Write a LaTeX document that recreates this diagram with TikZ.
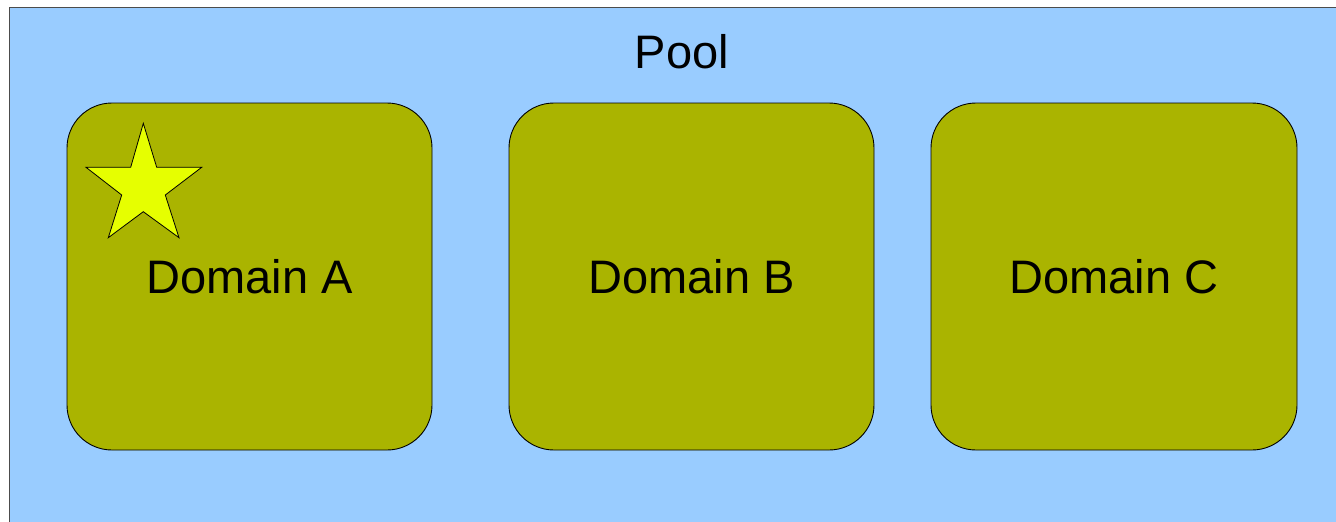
\documentclass[tikz,border=0pt]{standalone}
\usepackage{fontspec}
\setmainfont{Liberation Sans}
\definecolor{poolblue}{HTML}{99CCFF}
\definecolor{domolive}{HTML}{AAB400}
\definecolor{staryellow}{HTML}{E6FF00}
\tikzset{
  domainbox/.style={draw=black, line width=0.9pt, fill=domolive, rounded corners=45pt},
  bigtext/.style={font=\fontsize{47}{51}\selectfont, text=black, inner sep=0pt},
}
\begin{document}
\begin{tikzpicture}[x=1pt,y=-1pt]
\useasboundingbox (0,0) rectangle (1336,522);
\clip (0,0) rectangle (1336,522);
\fill[white] (0,0) rectangle (1336,522);
\draw[fill=poolblue, draw=black!70, line width=1pt] (9.5,7.5) rectangle (1345,535);
\node[bigtext] (pool) at (682,52) {Pool};
\draw[domainbox] (67,103) rectangle (432,450);
\draw[domainbox] (509,103) rectangle (874,450);
\draw[domainbox] (931,103) rectangle (1297,450);
\node[bigtext] (da) at (249.5,277) {Domain A};
\node[bigtext] (db) at (691.5,277) {Domain B};
\node[bigtext] (dc) at (1114,277) {Domain C};
\draw[fill=staryellow, draw=black, line width=0.8pt, line join=miter]
  (143.3,123.3) -- (156.7,167.3) -- (201.7,167.3) -- (165.3,195) -- (179,237.7)
  -- (143.3,211.7) -- (108.3,237.7) -- (121.7,195) -- (86,167.3) -- (130.7,167.3) -- cycle;
\end{tikzpicture}
\end{document}
